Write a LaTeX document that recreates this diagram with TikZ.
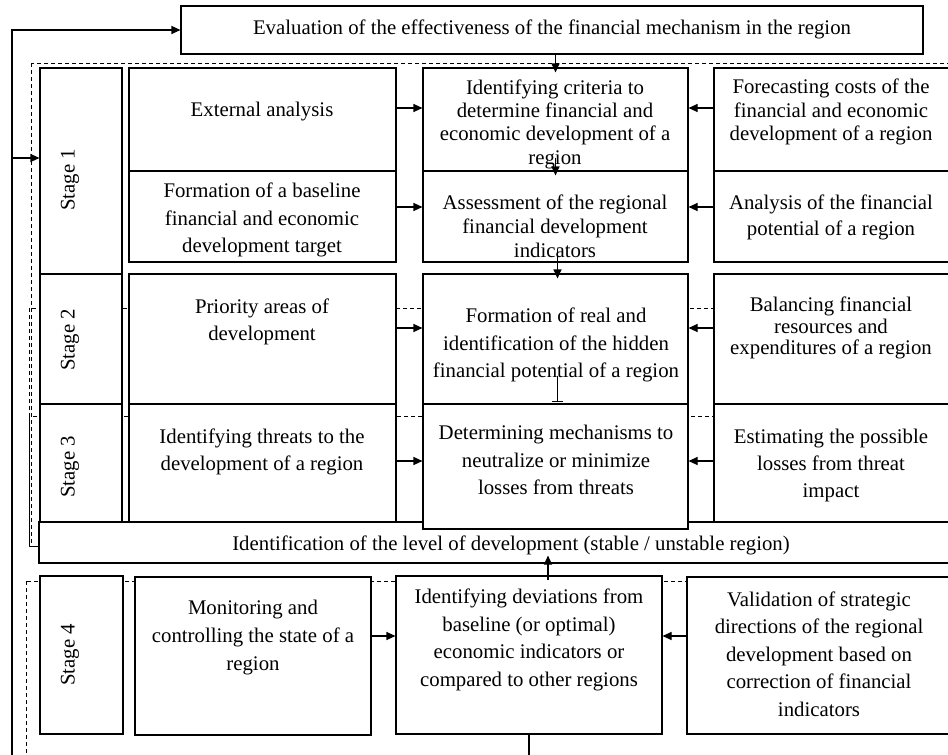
\documentclass[tikz,border=0pt]{standalone}
\usepackage{fontspec}
\setmainfont{Liberation Serif}
\usetikzlibrary{arrows.meta,fit}
\begin{document}
\begin{tikzpicture}[x=1pt,y=-1pt,
  box/.style={draw, line width=1.1pt, fill=white, inner sep=0pt},
  txt/.style={align=center, inner sep=0pt, yshift=-2pt, font=\fontsize{20.8}{27.5}\selectfont},
  tight/.style={font=\fontsize{20.8}{23.3}\selectfont},
  stagelabel/.style={align=center, inner sep=0pt, rotate=90, font=\fontsize{20.8}{24}\selectfont},
  link/.style={line width=1.1pt},
  arr/.style={link, -{Triangle[length=9pt,width=8pt]}},
  zone/.style={draw, line width=0.9pt, dash pattern=on 4pt off 3pt}]
\useasboundingbox (0,0) rectangle (948,755);
\clip (0,0) rectangle (948,755);

% dashed stage zones
\draw[zone] (31,63) rectangle (960,546);
\draw[zone] (29,308) rectangle (960,546);
\draw[zone] (29,416) rectangle (960,546);
\draw[zone] (26,581) rectangle (960,780);

% level of development bar (drawn first, the centre column overlaps it)
\node[box, fit={(39,522) (955,563)}] (ident) {};

% top box
\node[box, fit={(181,6) (923,54)}] (top) {};

% stage column
\node[box, fit={(40,68) (122,274)}] (s1) {};
\node[box, fit={(40,274) (122,404)}] (s2) {};
\node[box, fit={(40,404) (122,522)}] (s3) {};
\node[box, fit={(40,576) (123,734)}] (s4) {};

% left column
\node[box, fit={(129,68) (396,171)}] (ext) {};
\node[box, fit={(129,171) (396,262)}] (base) {};
\node[box, fit={(129,274) (396,404)}] (prio) {};
\node[box, fit={(129,404) (396,522)}] (threat) {};
\node[box, fit={(135,577) (371,735)}] (mon) {};

% centre column
\node[box, fit={(423,68) (688,171)}] (crit) {};
\node[box, fit={(423,171) (688,262)}] (assess) {};
\node[box, fit={(423,274) (688,404)}] (form) {};
\node[box, fit={(423,404) (688,529)}] (determ) {};
\node[box, fit={(396,576) (662,734)}] (dev) {};

% right column
\node[box, fit={(714,68) (955,171)}] (fore) {};
\node[box, fit={(714,171) (955,262)}] (anal) {};
\node[box, fit={(714,274) (955,404)}] (bal) {};
\node[box, fit={(714,404) (955,522)}] (est) {};
\node[box, fit={(687,577) (955,734)}] (valid) {};

% texts
\node[txt] (t-top) at (552,27) {Evaluation of the effectiveness of the financial mechanism in the region};
\node[stagelabel] (t-s1) at (70,180) {Stage 1};
\node[stagelabel] (t-s2) at (70,340) {Stage 2};
\node[stagelabel] (t-s3) at (70,467) {Stage 3};
\node[stagelabel] (t-s4) at (70,655) {Stage 4};

\node[txt] (t-ext) at (262,110) {External analysis};
\node[txt] (t-base) at (262,218) {Formation of a baseline\\financial and economic\\development target};
\node[txt] (t-prio) at (262,320) {Priority areas of\\development};
\node[txt] (t-threat) at (262,450) {Identifying threats to the\\development of a region};
\node[txt, font=\fontsize{20.8}{28}\selectfont] (t-mon) at (253,636) {Monitoring and\\controlling the state of a\\region};

\node[txt, tight] (t-crit) at (555,122) {Identifying criteria to\\determine financial and\\economic development of a\\region};
\node[txt, font=\fontsize{20.8}{24}\selectfont] (t-assess) at (555,224) {Assessment of the regional\\financial development\\indicators};
\node[txt] (t-form) at (556,343) {Formation of real and\\identification of the hidden\\financial potential of a region};
\node[txt] (t-determ) at (556,458) {Determining mechanisms to\\neutralize or minimize\\losses from threats};
\node[txt] (t-dev) at (529,638) {Identifying deviations from\\baseline (or optimal)\\economic indicators or\\compared to other regions};

\node[txt, tight] (t-fore) at (831,110) {Forecasting costs of the\\financial and economic\\development of a region};
\node[txt, font=\fontsize{20.8}{26}\selectfont] (t-anal) at (831,215) {Analysis of the financial\\potential of a region};
\node[txt, font=\fontsize{20.8}{21.5}\selectfont] (t-bal) at (831,326) {Balancing financial\\resources and\\expenditures of a region};
\node[txt, font=\fontsize{20.8}{27}\selectfont] (t-est) at (831,463) {Estimating the possible\\losses from threat\\impact};
\node[txt] (t-valid) at (819,652) {Validation of strategic\\directions of the regional\\development based on\\correction of financial\\indicators};

\node[txt] (t-ident) at (511,543) {Identification of the level of development (stable / unstable region)};

% arrow rows
\coordinate (r1) at (0,108);
\coordinate (r2) at (0,207);
\coordinate (r3) at (0,328);
\coordinate (r4) at (0,461);
\coordinate (r5) at (0,636);
\coordinate (s1in) at (12,158);
\coordinate (loop) at (12,770);
\coordinate (devup) at (548,0);

% horizontal connectors
\draw[arr] (ext.east |- r1) -- (crit.west |- r1);
\draw[arr] (fore.west |- r1) -- (crit.east |- r1);
\draw[arr] (base.east |- r2) -- (assess.west |- r2);
\draw[arr] (anal.west |- r2) -- (assess.east |- r2);
\draw[arr] (prio.east |- r3) -- (form.west |- r3);
\draw[arr] (bal.west |- r3) -- (form.east |- r3);
\draw[arr] (threat.east |- r4) -- (determ.west |- r4);
\draw[arr] (est.west |- r4) -- (determ.east |- r4);
\draw[arr] (mon.east |- r5) -- (dev.west |- r5);
\draw[arr] (valid.west |- r5) -- (dev.east |- r5);

% vertical connectors
\draw[arr] (top.south -| crit.north) -- ([yshift=-5pt]crit.north);
\draw[arr] ([yshift=14pt]crit.south) -- ([yshift=-5pt]assess.north);
\draw[arr] ([xshift=2pt,yshift=14pt]assess.south) -- ([xshift=2pt,yshift=-5pt]form.north);
\draw[link, -{Bar[width=11pt]}] ([xshift=2pt,yshift=29pt]form.south) -- ([xshift=2pt,yshift=1pt]determ.north);
\draw[arr] ([yshift=-5pt]dev.north -| devup) -- ([yshift=8pt]ident.south -| devup);

% feedback loop
\draw[arr] (dev.south) |- (loop) |- (top.west);
\draw[arr] (s1in) -- (s1.west |- s1in);
\end{tikzpicture}
\end{document}
